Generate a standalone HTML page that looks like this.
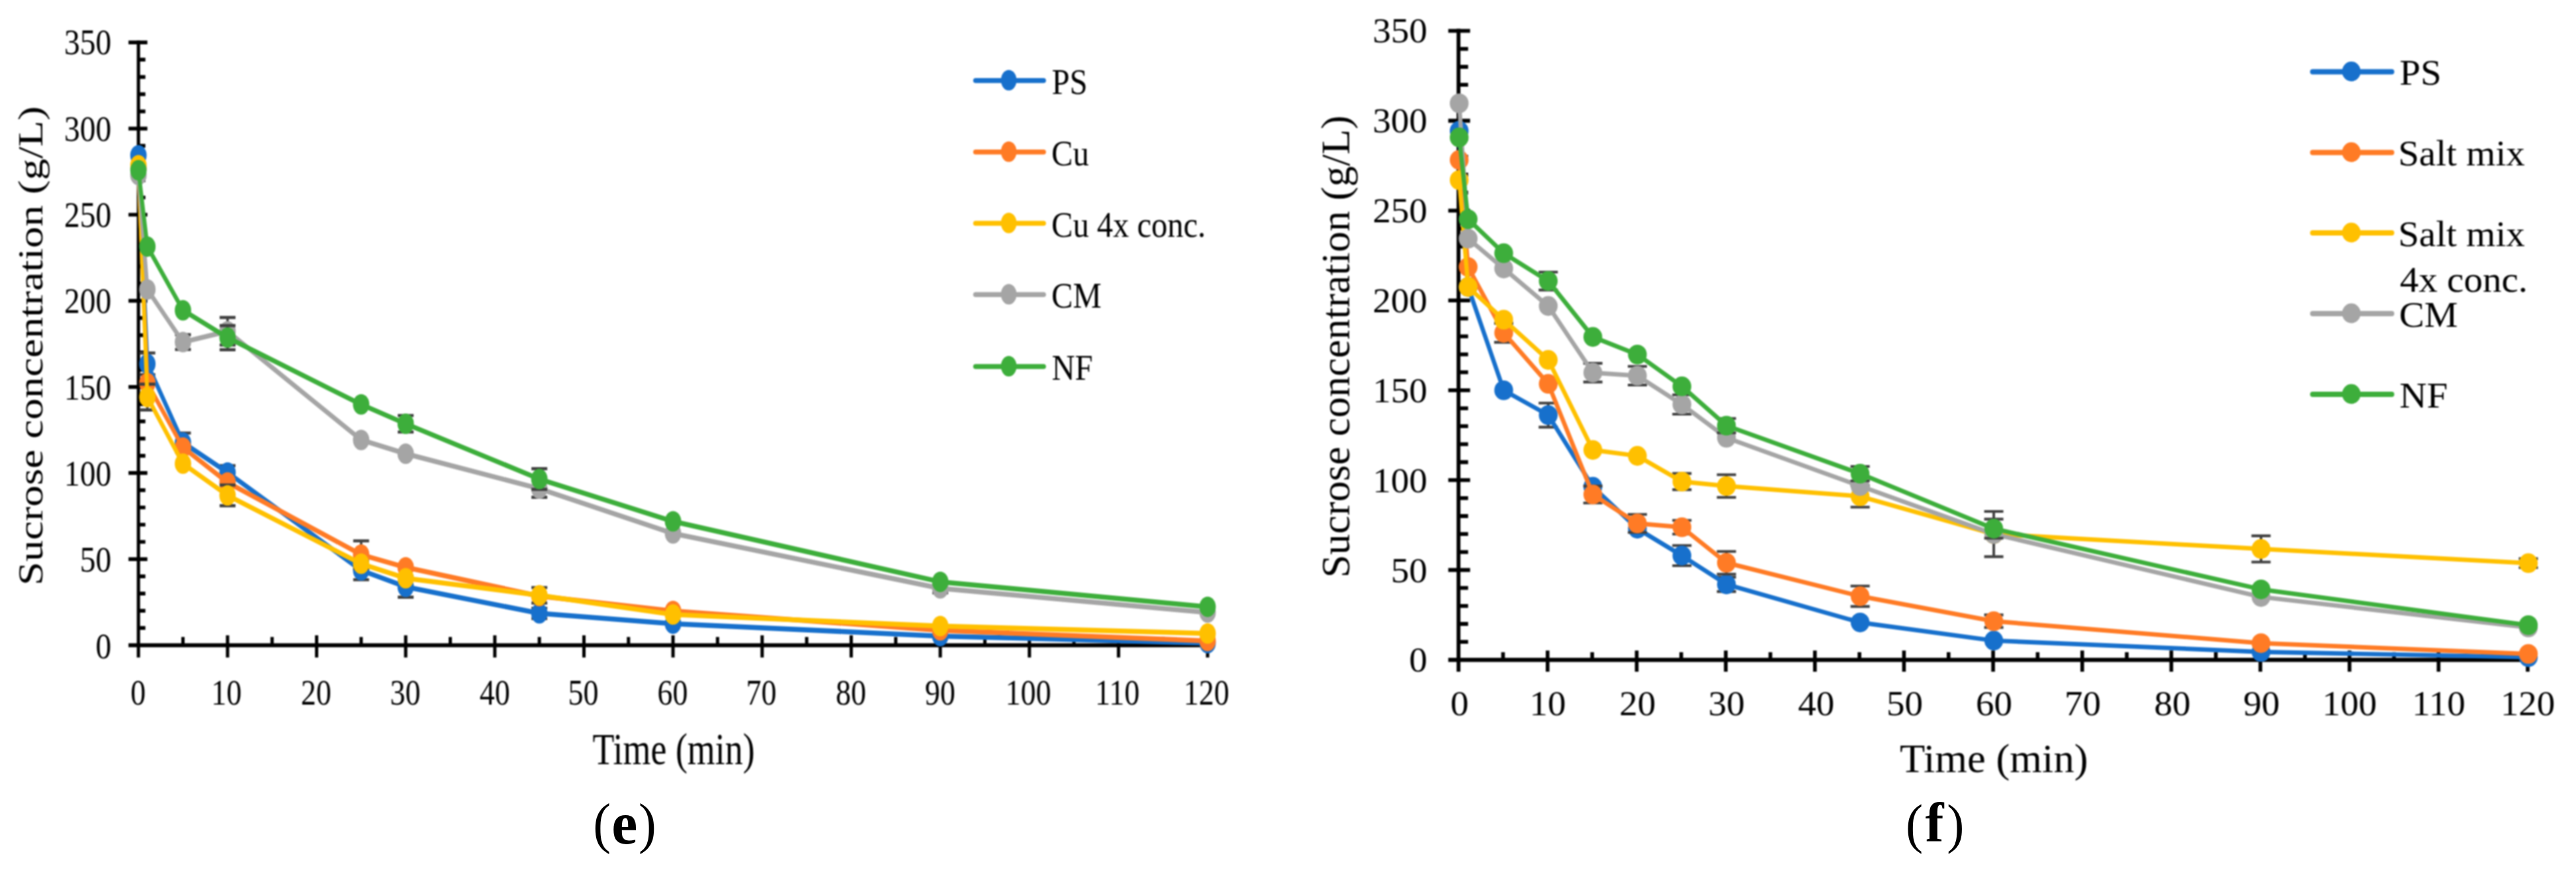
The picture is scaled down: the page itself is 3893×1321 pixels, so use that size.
<!DOCTYPE html>
<html><head><meta charset="utf-8"><title>Sucrose concentration charts</title>
<style>html,body{margin:0;padding:0;background:#fff}svg{display:block}</style></head>
<body>
<svg width="3893" height="1321" viewBox="0 0 3893 1321" font-family='"Liberation Serif", serif'>
<rect width="3893" height="1321" fill="#fff"/>
<defs><filter id="soft" x="0" y="0" width="100%" height="100%" filterUnits="userSpaceOnUse" color-interpolation-filters="sRGB"><feGaussianBlur stdDeviation="0.9"/></filter></defs>
<g filter="url(#soft)">
<rect width="3893" height="1321" fill="#fff"/>
<path d="M209.2,61.2V993.7" stroke="#000" stroke-width="5.0"/>
<path d="M194.2,975.2H1827.5" stroke="#000" stroke-width="6.1"/>
<path d="M209.2,949.2H219.7M209.2,923.1H219.7M209.2,897.1H219.7M209.2,871.1H219.7M194.2,845.1H222.7M209.2,819.0H219.7M209.2,793.0H219.7M209.2,767.0H219.7M209.2,740.9H219.7M194.2,714.9H222.7M209.2,688.9H219.7M209.2,662.9H219.7M209.2,636.8H219.7M209.2,610.8H219.7M194.2,584.8H222.7M209.2,558.8H219.7M209.2,532.7H219.7M209.2,506.7H219.7M209.2,480.7H219.7M194.2,454.6H222.7M209.2,428.6H219.7M209.2,402.6H219.7M209.2,376.6H219.7M209.2,350.5H219.7M194.2,324.5H222.7M209.2,298.5H219.7M209.2,272.4H219.7M209.2,246.4H219.7M209.2,220.4H219.7M194.2,194.4H222.7M209.2,168.3H219.7M209.2,142.3H219.7M209.2,116.3H219.7M209.2,90.2H219.7M194.2,64.2H222.7" stroke="#000" stroke-width="5.7"/>
<path d="M276.5,962.7V975.2M343.9,960.2V993.7M411.2,962.7V975.2M478.5,960.2V993.7M545.8,962.7V975.2M613.1,960.2V993.7M680.5,962.7V975.2M747.8,960.2V993.7M815.1,962.7V975.2M882.5,960.2V993.7M949.8,962.7V975.2M1017.1,960.2V993.7M1084.4,962.7V975.2M1151.8,960.2V993.7M1219.1,962.7V975.2M1286.4,960.2V993.7M1353.7,962.7V975.2M1421.0,960.2V993.7M1488.4,962.7V975.2M1555.7,960.2V993.7M1623.0,962.7V975.2M1690.4,960.2V993.7M1757.7,962.7V975.2M1825.0,960.2V993.7" stroke="#000" stroke-width="5.0"/>
<text transform="translate(144.53,994.71) scale(0.4750,0.5500)" font-size="100" text-anchor="start" fill="#000">0</text>
<text transform="translate(120.78,864.36) scale(0.4750,0.5500)" font-size="100" text-anchor="start" fill="#000">50</text>
<text transform="translate(97.03,734.00) scale(0.4750,0.5500)" font-size="100" text-anchor="start" fill="#000">100</text>
<text transform="translate(97.03,603.65) scale(0.4750,0.5500)" font-size="100" text-anchor="start" fill="#000">150</text>
<text transform="translate(97.03,473.30) scale(0.4750,0.5500)" font-size="100" text-anchor="start" fill="#000">200</text>
<text transform="translate(97.03,342.94) scale(0.4750,0.5500)" font-size="100" text-anchor="start" fill="#000">250</text>
<text transform="translate(97.03,212.59) scale(0.4750,0.5500)" font-size="100" text-anchor="start" fill="#000">300</text>
<text transform="translate(97.03,82.23) scale(0.4750,0.5500)" font-size="100" text-anchor="start" fill="#000">350</text>
<text transform="translate(197.20,1065.00) scale(0.4600,0.5500)" font-size="100" text-anchor="start" fill="#000">0</text>
<text transform="translate(319.20,1065.00) scale(0.4600,0.5500)" font-size="100" text-anchor="start" fill="#000">10</text>
<text transform="translate(454.83,1065.00) scale(0.4600,0.5500)" font-size="100" text-anchor="start" fill="#000">20</text>
<text transform="translate(589.42,1065.00) scale(0.4600,0.5500)" font-size="100" text-anchor="start" fill="#000">30</text>
<text transform="translate(724.70,1065.00) scale(0.4600,0.5500)" font-size="100" text-anchor="start" fill="#000">40</text>
<text transform="translate(858.49,1065.00) scale(0.4600,0.5500)" font-size="100" text-anchor="start" fill="#000">50</text>
<text transform="translate(993.48,1065.00) scale(0.4600,0.5500)" font-size="100" text-anchor="start" fill="#000">60</text>
<text transform="translate(1127.62,1065.00) scale(0.4600,0.5500)" font-size="100" text-anchor="start" fill="#000">70</text>
<text transform="translate(1262.90,1065.00) scale(0.4600,0.5500)" font-size="100" text-anchor="start" fill="#000">80</text>
<text transform="translate(1397.66,1065.00) scale(0.4600,0.5500)" font-size="100" text-anchor="start" fill="#000">90</text>
<text transform="translate(1519.55,1065.00) scale(0.4600,0.5500)" font-size="100" text-anchor="start" fill="#000">100</text>
<text transform="translate(1655.06,1065.00) scale(0.4600,0.5500)" font-size="100" text-anchor="start" fill="#000">110</text>
<text transform="translate(1788.85,1065.00) scale(0.4600,0.5500)" font-size="100" text-anchor="start" fill="#000">120</text>
<g transform="scale(1,1.25)">
<path d="M222.7,426.80V453.04M210.7,426.80H234.7M210.7,453.04H234.7" stroke="#404040" stroke-width="3.7" fill="none"/>
<path d="M276.5,523.63V546.53M264.5,523.63H288.5M264.5,546.53H288.5" stroke="#404040" stroke-width="3.7" fill="none"/>
<path d="M343.9,562.98V579.64M331.9,562.98H355.9M331.9,579.64H355.9" stroke="#404040" stroke-width="3.7" fill="none"/>
<path d="M545.8,678.13V701.03M533.8,678.13H557.8M533.8,701.03H557.8" stroke="#404040" stroke-width="3.7" fill="none"/>
<path d="M613.1,697.08V722.07M601.1,697.08H625.1M601.1,722.07H625.1" stroke="#404040" stroke-width="3.7" fill="none"/>
<path d="M815.1,735.39V747.89M803.1,735.39H827.1M803.1,747.89H827.1" stroke="#404040" stroke-width="3.7" fill="none"/>
<path d="M209.2,187.76 L222.7,439.92 L276.5,535.08 L343.9,571.31 L545.8,689.58 L613.1,709.57 L815.1,741.64 L1017.1,754.13 L1421.0,769.12 L1825.0,777.66" stroke="#1770CC" stroke-width="6.0" fill="none" stroke-linejoin="round" stroke-linecap="round"/>
<circle cx="209.2" cy="187.76" r="12.4" fill="#1770CC"/>
<circle cx="222.7" cy="439.92" r="12.4" fill="#1770CC"/>
<circle cx="276.5" cy="535.08" r="12.4" fill="#1770CC"/>
<circle cx="343.9" cy="571.31" r="12.4" fill="#1770CC"/>
<circle cx="545.8" cy="689.58" r="12.4" fill="#1770CC"/>
<circle cx="613.1" cy="709.57" r="12.4" fill="#1770CC"/>
<circle cx="815.1" cy="741.64" r="12.4" fill="#1770CC"/>
<circle cx="1017.1" cy="754.13" r="12.4" fill="#1770CC"/>
<circle cx="1421.0" cy="769.12" r="12.4" fill="#1770CC"/>
<circle cx="1825.0" cy="777.66" r="12.4" fill="#1770CC"/>
<path d="M545.8,653.98V687.29M533.8,653.98H557.8M533.8,687.29H557.8" stroke="#404040" stroke-width="3.7" fill="none"/>
<path d="M209.2,203.38 L222.7,463.24 L276.5,541.12 L343.9,583.39 L545.8,670.63 L613.1,686.04 L815.1,720.82 L1017.1,738.72 L1421.0,762.25 L1825.0,774.95" stroke="#FF7B25" stroke-width="6.0" fill="none" stroke-linejoin="round" stroke-linecap="round"/>
<circle cx="209.2" cy="203.38" r="12.4" fill="#FF7B25"/>
<circle cx="222.7" cy="463.24" r="12.4" fill="#FF7B25"/>
<circle cx="276.5" cy="541.12" r="12.4" fill="#FF7B25"/>
<circle cx="343.9" cy="583.39" r="12.4" fill="#FF7B25"/>
<circle cx="545.8" cy="670.63" r="12.4" fill="#FF7B25"/>
<circle cx="613.1" cy="686.04" r="12.4" fill="#FF7B25"/>
<circle cx="815.1" cy="720.82" r="12.4" fill="#FF7B25"/>
<circle cx="1017.1" cy="738.72" r="12.4" fill="#FF7B25"/>
<circle cx="1421.0" cy="762.25" r="12.4" fill="#FF7B25"/>
<circle cx="1825.0" cy="774.95" r="12.4" fill="#FF7B25"/>
<path d="M222.7,464.49V495.73M210.7,464.49H234.7M210.7,495.73H234.7" stroke="#404040" stroke-width="3.7" fill="none"/>
<path d="M343.9,586.51V611.50M331.9,586.51H355.9M331.9,611.50H355.9" stroke="#404040" stroke-width="3.7" fill="none"/>
<path d="M815.1,710.40V729.15M803.1,710.40H827.1M803.1,729.15H827.1" stroke="#404040" stroke-width="3.7" fill="none"/>
<path d="M209.2,199.84 L222.7,480.11 L276.5,560.69 L343.9,599.01 L545.8,681.67 L613.1,699.16 L815.1,719.78 L1017.1,743.10 L1421.0,757.05 L1825.0,766.00" stroke="#FFC000" stroke-width="6.0" fill="none" stroke-linejoin="round" stroke-linecap="round"/>
<circle cx="209.2" cy="199.84" r="12.4" fill="#FFC000"/>
<circle cx="222.7" cy="480.11" r="12.4" fill="#FFC000"/>
<circle cx="276.5" cy="560.69" r="12.4" fill="#FFC000"/>
<circle cx="343.9" cy="599.01" r="12.4" fill="#FFC000"/>
<circle cx="545.8" cy="681.67" r="12.4" fill="#FFC000"/>
<circle cx="613.1" cy="699.16" r="12.4" fill="#FFC000"/>
<circle cx="815.1" cy="719.78" r="12.4" fill="#FFC000"/>
<circle cx="1017.1" cy="743.10" r="12.4" fill="#FFC000"/>
<circle cx="1421.0" cy="757.05" r="12.4" fill="#FFC000"/>
<circle cx="1825.0" cy="766.00" r="12.4" fill="#FFC000"/>
<path d="M276.5,404.73V422.64M264.5,404.73H288.5M264.5,422.64H288.5" stroke="#404040" stroke-width="3.7" fill="none"/>
<path d="M343.9,383.91V417.23M331.9,383.91H355.9M331.9,417.23H355.9" stroke="#404040" stroke-width="3.7" fill="none"/>
<path d="M815.1,580.47V601.30M803.1,580.47H827.1M803.1,601.30H827.1" stroke="#404040" stroke-width="3.7" fill="none"/>
<path d="M1421.0,706.24V716.65M1409.0,706.24H1433.0M1409.0,716.65H1433.0" stroke="#404040" stroke-width="3.7" fill="none"/>
<path d="M209.2,211.71 L222.7,349.97 L276.5,413.69 L343.9,400.57 L545.8,531.96 L613.1,548.61 L815.1,590.88 L1017.1,645.02 L1421.0,711.45 L1825.0,740.60" stroke="#A5A5A5" stroke-width="6.0" fill="none" stroke-linejoin="round" stroke-linecap="round"/>
<circle cx="209.2" cy="211.71" r="12.4" fill="#A5A5A5"/>
<circle cx="222.7" cy="349.97" r="12.4" fill="#A5A5A5"/>
<circle cx="276.5" cy="413.69" r="12.4" fill="#A5A5A5"/>
<circle cx="343.9" cy="400.57" r="12.4" fill="#A5A5A5"/>
<circle cx="545.8" cy="531.96" r="12.4" fill="#A5A5A5"/>
<circle cx="613.1" cy="548.61" r="12.4" fill="#A5A5A5"/>
<circle cx="815.1" cy="590.88" r="12.4" fill="#A5A5A5"/>
<circle cx="1017.1" cy="645.02" r="12.4" fill="#A5A5A5"/>
<circle cx="1421.0" cy="711.45" r="12.4" fill="#A5A5A5"/>
<circle cx="1825.0" cy="740.60" r="12.4" fill="#A5A5A5"/>
<path d="M343.9,393.70V422.85M331.9,393.70H355.9M331.9,422.85H355.9" stroke="#404040" stroke-width="3.7" fill="none"/>
<path d="M613.1,502.39V522.38M601.1,502.39H625.1M601.1,522.38H625.1" stroke="#404040" stroke-width="3.7" fill="none"/>
<path d="M815.1,566.73V591.72M803.1,566.73H827.1M803.1,591.72H827.1" stroke="#404040" stroke-width="3.7" fill="none"/>
<path d="M209.2,205.88 L222.7,298.12 L276.5,375.16 L343.9,408.27 L545.8,489.06 L613.1,512.38 L815.1,579.22 L1017.1,630.45 L1421.0,703.53 L1825.0,733.73" stroke="#3DAE3B" stroke-width="6.0" fill="none" stroke-linejoin="round" stroke-linecap="round"/>
<circle cx="209.2" cy="205.88" r="12.4" fill="#3DAE3B"/>
<circle cx="222.7" cy="298.12" r="12.4" fill="#3DAE3B"/>
<circle cx="276.5" cy="375.16" r="12.4" fill="#3DAE3B"/>
<circle cx="343.9" cy="408.27" r="12.4" fill="#3DAE3B"/>
<circle cx="545.8" cy="489.06" r="12.4" fill="#3DAE3B"/>
<circle cx="613.1" cy="512.38" r="12.4" fill="#3DAE3B"/>
<circle cx="815.1" cy="579.22" r="12.4" fill="#3DAE3B"/>
<circle cx="1017.1" cy="630.45" r="12.4" fill="#3DAE3B"/>
<circle cx="1421.0" cy="703.53" r="12.4" fill="#3DAE3B"/>
<circle cx="1825.0" cy="733.73" r="12.4" fill="#3DAE3B"/>
</g>
<path d="M2204.2,43.6V1015.3" stroke="#000" stroke-width="5.8"/>
<path d="M2188.7,997.3H3822.9" stroke="#000" stroke-width="6.2"/>
<path d="M2204.2,970.1H2218.7M2204.2,943.0H2218.7M2204.2,915.8H2218.7M2204.2,888.7H2218.7M2188.7,861.5H2221.7M2204.2,834.3H2218.7M2204.2,807.2H2218.7M2204.2,780.0H2218.7M2204.2,752.9H2218.7M2188.7,725.7H2221.7M2204.2,698.5H2218.7M2204.2,671.4H2218.7M2204.2,644.2H2218.7M2204.2,617.1H2218.7M2188.7,589.9H2221.7M2204.2,562.7H2218.7M2204.2,535.6H2218.7M2204.2,508.4H2218.7M2204.2,481.3H2218.7M2188.7,454.1H2221.7M2204.2,426.9H2218.7M2204.2,399.8H2218.7M2204.2,372.6H2218.7M2204.2,345.5H2218.7M2188.7,318.3H2221.7M2204.2,291.1H2218.7M2204.2,264.0H2218.7M2204.2,236.8H2218.7M2204.2,209.7H2218.7M2188.7,182.5H2221.7M2204.2,155.3H2218.7M2204.2,128.2H2218.7M2204.2,101.0H2218.7M2204.2,73.9H2218.7M2188.7,46.7H2221.7" stroke="#000" stroke-width="5.8"/>
<path d="M2271.5,985.8V997.3M2338.8,983.3V1015.3M2406.2,985.8V997.3M2473.5,983.3V1015.3M2540.8,985.8V997.3M2608.1,983.3V1015.3M2675.5,985.8V997.3M2742.8,983.3V1015.3M2810.1,985.8V997.3M2877.4,983.3V1015.3M2944.8,985.8V997.3M3012.1,983.3V1015.3M3079.4,985.8V997.3M3146.8,983.3V1015.3M3214.1,985.8V997.3M3281.4,983.3V1015.3M3348.7,985.8V997.3M3416.0,983.3V1015.3M3483.4,985.8V997.3M3550.7,983.3V1015.3M3618.0,985.8V997.3M3685.3,983.3V1015.3M3752.7,985.8V997.3M3820.0,983.3V1015.3" stroke="#000" stroke-width="5.6"/>
<text transform="translate(2129.56,1015.49) scale(0.5500,0.5250)" font-size="100" text-anchor="start" fill="#000">0</text>
<text transform="translate(2102.06,879.55) scale(0.5500,0.5250)" font-size="100" text-anchor="start" fill="#000">50</text>
<text transform="translate(2074.56,743.61) scale(0.5500,0.5250)" font-size="100" text-anchor="start" fill="#000">100</text>
<text transform="translate(2074.56,607.67) scale(0.5500,0.5250)" font-size="100" text-anchor="start" fill="#000">150</text>
<text transform="translate(2074.56,471.72) scale(0.5500,0.5250)" font-size="100" text-anchor="start" fill="#000">200</text>
<text transform="translate(2074.56,335.78) scale(0.5500,0.5250)" font-size="100" text-anchor="start" fill="#000">250</text>
<text transform="translate(2074.56,199.84) scale(0.5500,0.5250)" font-size="100" text-anchor="start" fill="#000">300</text>
<text transform="translate(2074.56,63.89) scale(0.5500,0.5250)" font-size="100" text-anchor="start" fill="#000">350</text>
<text transform="translate(2191.95,1080.50) scale(0.5500,0.5250)" font-size="100" text-anchor="start" fill="#000">0</text>
<text transform="translate(2311.47,1080.50) scale(0.5500,0.5250)" font-size="100" text-anchor="start" fill="#000">10</text>
<text transform="translate(2447.29,1080.50) scale(0.5500,0.5250)" font-size="100" text-anchor="start" fill="#000">20</text>
<text transform="translate(2581.87,1080.50) scale(0.5500,0.5250)" font-size="100" text-anchor="start" fill="#000">30</text>
<text transform="translate(2717.28,1080.50) scale(0.5500,0.5250)" font-size="100" text-anchor="start" fill="#000">40</text>
<text transform="translate(2850.90,1080.50) scale(0.5500,0.5250)" font-size="100" text-anchor="start" fill="#000">50</text>
<text transform="translate(2985.96,1080.50) scale(0.5500,0.5250)" font-size="100" text-anchor="start" fill="#000">60</text>
<text transform="translate(3119.99,1080.50) scale(0.5500,0.5250)" font-size="100" text-anchor="start" fill="#000">70</text>
<text transform="translate(3255.40,1080.50) scale(0.5500,0.5250)" font-size="100" text-anchor="start" fill="#000">80</text>
<text transform="translate(3390.19,1080.50) scale(0.5500,0.5250)" font-size="100" text-anchor="start" fill="#000">90</text>
<text transform="translate(3509.57,1080.50) scale(0.5500,0.5250)" font-size="100" text-anchor="start" fill="#000">100</text>
<text transform="translate(3645.26,1080.50) scale(0.5500,0.5250)" font-size="100" text-anchor="start" fill="#000">110</text>
<text transform="translate(3778.88,1080.50) scale(0.5500,0.5250)" font-size="100" text-anchor="start" fill="#000">120</text>
<g transform="scale(1,1.05)">
<path d="M2339.8,580.17V614.84M2325.3,580.17H2354.3M2325.3,614.84H2354.3" stroke="#404040" stroke-width="3.9" fill="none"/>
<path d="M2541.8,785.30V814.27M2527.3,785.30H2556.3M2527.3,814.27H2556.3" stroke="#404040" stroke-width="3.9" fill="none"/>
<path d="M2609.1,830.82V851.52M2594.6,830.82H2623.6M2594.6,851.52H2623.6" stroke="#404040" stroke-width="3.9" fill="none"/>
<path d="M2205.2,188.29 L2218.7,413.08 L2272.5,561.81 L2339.8,597.51 L2407.2,700.71 L2474.5,760.98 L2541.8,799.78 L2609.1,841.17 L2811.1,896.01 L3013.1,922.13 L3417.0,938.43 L3821.0,945.93" stroke="#1770CC" stroke-width="6.4" fill="none" stroke-linejoin="round" stroke-linecap="round"/>
<circle cx="2205.2" cy="188.29" r="14.2" fill="#1770CC"/>
<circle cx="2218.7" cy="413.08" r="14.2" fill="#1770CC"/>
<circle cx="2272.5" cy="561.81" r="14.2" fill="#1770CC"/>
<circle cx="2339.8" cy="597.51" r="14.2" fill="#1770CC"/>
<circle cx="2407.2" cy="700.71" r="14.2" fill="#1770CC"/>
<circle cx="2474.5" cy="760.98" r="14.2" fill="#1770CC"/>
<circle cx="2541.8" cy="799.78" r="14.2" fill="#1770CC"/>
<circle cx="2609.1" cy="841.17" r="14.2" fill="#1770CC"/>
<circle cx="2811.1" cy="896.01" r="14.2" fill="#1770CC"/>
<circle cx="3013.1" cy="922.13" r="14.2" fill="#1770CC"/>
<circle cx="3417.0" cy="938.43" r="14.2" fill="#1770CC"/>
<circle cx="3821.0" cy="945.93" r="14.2" fill="#1770CC"/>
<path d="M2272.5,465.33V492.75M2258.0,465.33H2287.0M2258.0,492.75H2287.0" stroke="#404040" stroke-width="3.9" fill="none"/>
<path d="M2407.2,699.68V723.99M2392.7,699.68H2421.7M2392.7,723.99H2421.7" stroke="#404040" stroke-width="3.9" fill="none"/>
<path d="M2474.5,740.55V766.41M2460.0,740.55H2489.0M2460.0,766.41H2489.0" stroke="#404040" stroke-width="3.9" fill="none"/>
<path d="M2541.8,749.08V768.74M2527.3,749.08H2556.3M2527.3,768.74H2556.3" stroke="#404040" stroke-width="3.9" fill="none"/>
<path d="M2609.1,793.83V826.43M2594.6,793.83H2623.6M2594.6,826.43H2623.6" stroke="#404040" stroke-width="3.9" fill="none"/>
<path d="M2811.1,843.50V872.99M2796.6,843.50H2825.6M2796.6,872.99H2825.6" stroke="#404040" stroke-width="3.9" fill="none"/>
<path d="M3013.1,885.14V903.25M2998.6,885.14H3027.6M2998.6,903.25H3027.6" stroke="#404040" stroke-width="3.9" fill="none"/>
<path d="M2205.2,230.20 L2218.7,384.36 L2272.5,479.04 L2339.8,552.50 L2407.2,711.84 L2474.5,753.48 L2541.8,758.91 L2609.1,810.13 L2811.1,858.24 L3013.1,894.20 L3417.0,925.75 L3821.0,941.27" stroke="#FF7B25" stroke-width="6.4" fill="none" stroke-linejoin="round" stroke-linecap="round"/>
<circle cx="2205.2" cy="230.20" r="14.2" fill="#FF7B25"/>
<circle cx="2218.7" cy="384.36" r="14.2" fill="#FF7B25"/>
<circle cx="2272.5" cy="479.04" r="14.2" fill="#FF7B25"/>
<circle cx="2339.8" cy="552.50" r="14.2" fill="#FF7B25"/>
<circle cx="2407.2" cy="711.84" r="14.2" fill="#FF7B25"/>
<circle cx="2474.5" cy="753.48" r="14.2" fill="#FF7B25"/>
<circle cx="2541.8" cy="758.91" r="14.2" fill="#FF7B25"/>
<circle cx="2609.1" cy="810.13" r="14.2" fill="#FF7B25"/>
<circle cx="2811.1" cy="858.24" r="14.2" fill="#FF7B25"/>
<circle cx="3013.1" cy="894.20" r="14.2" fill="#FF7B25"/>
<circle cx="3417.0" cy="925.75" r="14.2" fill="#FF7B25"/>
<circle cx="3821.0" cy="941.27" r="14.2" fill="#FF7B25"/>
<path d="M2541.8,681.57V704.85M2527.3,681.57H2556.3M2527.3,704.85H2556.3" stroke="#404040" stroke-width="3.9" fill="none"/>
<path d="M2609.1,683.38V715.97M2594.6,683.38H2623.6M2594.6,715.97H2623.6" stroke="#404040" stroke-width="3.9" fill="none"/>
<path d="M2811.1,698.90V729.94M2796.6,698.90H2825.6M2796.6,729.94H2825.6" stroke="#404040" stroke-width="3.9" fill="none"/>
<path d="M3417.0,771.33V809.09M3402.5,771.33H3431.5M3402.5,809.09H3431.5" stroke="#404040" stroke-width="3.9" fill="none"/>
<path d="M3821.0,804.18V817.11M3806.5,804.18H3835.5M3806.5,817.11H3835.5" stroke="#404040" stroke-width="3.9" fill="none"/>
<path d="M2205.2,259.17 L2218.7,413.08 L2272.5,460.15 L2339.8,518.09 L2407.2,647.69 L2474.5,656.22 L2541.8,693.21 L2609.1,699.68 L2811.1,714.42 L3013.1,768.74 L3417.0,790.21 L3821.0,810.65" stroke="#FFC000" stroke-width="6.4" fill="none" stroke-linejoin="round" stroke-linecap="round"/>
<circle cx="2205.2" cy="259.17" r="14.2" fill="#FFC000"/>
<circle cx="2218.7" cy="413.08" r="14.2" fill="#FFC000"/>
<circle cx="2272.5" cy="460.15" r="14.2" fill="#FFC000"/>
<circle cx="2339.8" cy="518.09" r="14.2" fill="#FFC000"/>
<circle cx="2407.2" cy="647.69" r="14.2" fill="#FFC000"/>
<circle cx="2474.5" cy="656.22" r="14.2" fill="#FFC000"/>
<circle cx="2541.8" cy="693.21" r="14.2" fill="#FFC000"/>
<circle cx="2609.1" cy="699.68" r="14.2" fill="#FFC000"/>
<circle cx="2811.1" cy="714.42" r="14.2" fill="#FFC000"/>
<circle cx="3013.1" cy="768.74" r="14.2" fill="#FFC000"/>
<circle cx="3417.0" cy="790.21" r="14.2" fill="#FFC000"/>
<circle cx="3821.0" cy="810.65" r="14.2" fill="#FFC000"/>
<path d="M2407.2,523.01V549.91M2392.7,523.01H2421.7M2392.7,549.91H2421.7" stroke="#404040" stroke-width="3.9" fill="none"/>
<path d="M2474.5,527.41V554.31M2460.0,527.41H2489.0M2460.0,554.31H2489.0" stroke="#404040" stroke-width="3.9" fill="none"/>
<path d="M2541.8,568.28V596.21M2527.3,568.28H2556.3M2527.3,596.21H2556.3" stroke="#404040" stroke-width="3.9" fill="none"/>
<path d="M3013.1,736.15V801.33M2998.6,736.15H3027.6M2998.6,801.33H3027.6" stroke="#404040" stroke-width="3.9" fill="none"/>
<path d="M2205.2,148.72 L2218.7,343.49 L2272.5,386.43 L2339.8,440.49 L2407.2,536.46 L2474.5,540.86 L2541.8,582.24 L2609.1,630.10 L2811.1,699.68 L3013.1,768.74 L3417.0,859.28 L3821.0,903.25" stroke="#A5A5A5" stroke-width="6.4" fill="none" stroke-linejoin="round" stroke-linecap="round"/>
<circle cx="2205.2" cy="148.72" r="14.2" fill="#A5A5A5"/>
<circle cx="2218.7" cy="343.49" r="14.2" fill="#A5A5A5"/>
<circle cx="2272.5" cy="386.43" r="14.2" fill="#A5A5A5"/>
<circle cx="2339.8" cy="440.49" r="14.2" fill="#A5A5A5"/>
<circle cx="2407.2" cy="536.46" r="14.2" fill="#A5A5A5"/>
<circle cx="2474.5" cy="540.86" r="14.2" fill="#A5A5A5"/>
<circle cx="2541.8" cy="582.24" r="14.2" fill="#A5A5A5"/>
<circle cx="2609.1" cy="630.10" r="14.2" fill="#A5A5A5"/>
<circle cx="2811.1" cy="699.68" r="14.2" fill="#A5A5A5"/>
<circle cx="3013.1" cy="768.74" r="14.2" fill="#A5A5A5"/>
<circle cx="3417.0" cy="859.28" r="14.2" fill="#A5A5A5"/>
<circle cx="3821.0" cy="903.25" r="14.2" fill="#A5A5A5"/>
<path d="M2339.8,391.61V417.47M2325.3,391.61H2354.3M2325.3,417.47H2354.3" stroke="#404040" stroke-width="3.9" fill="none"/>
<path d="M2609.1,602.42V623.11M2594.6,602.42H2623.6M2594.6,623.11H2623.6" stroke="#404040" stroke-width="3.9" fill="none"/>
<path d="M2811.1,671.48V692.18M2796.6,671.48H2825.6M2796.6,692.18H2825.6" stroke="#404040" stroke-width="3.9" fill="none"/>
<path d="M3013.1,747.27V774.69M2998.6,747.27H3027.6M2998.6,774.69H3027.6" stroke="#404040" stroke-width="3.9" fill="none"/>
<path d="M2205.2,197.87 L2218.7,315.56 L2272.5,364.45 L2339.8,404.54 L2407.2,484.99 L2474.5,510.33 L2541.8,556.12 L2609.1,612.77 L2811.1,681.83 L3013.1,760.98 L3417.0,848.41 L3821.0,899.89" stroke="#3DAE3B" stroke-width="6.4" fill="none" stroke-linejoin="round" stroke-linecap="round"/>
<circle cx="2205.2" cy="197.87" r="14.2" fill="#3DAE3B"/>
<circle cx="2218.7" cy="315.56" r="14.2" fill="#3DAE3B"/>
<circle cx="2272.5" cy="364.45" r="14.2" fill="#3DAE3B"/>
<circle cx="2339.8" cy="404.54" r="14.2" fill="#3DAE3B"/>
<circle cx="2407.2" cy="484.99" r="14.2" fill="#3DAE3B"/>
<circle cx="2474.5" cy="510.33" r="14.2" fill="#3DAE3B"/>
<circle cx="2541.8" cy="556.12" r="14.2" fill="#3DAE3B"/>
<circle cx="2609.1" cy="612.77" r="14.2" fill="#3DAE3B"/>
<circle cx="2811.1" cy="681.83" r="14.2" fill="#3DAE3B"/>
<circle cx="3013.1" cy="760.98" r="14.2" fill="#3DAE3B"/>
<circle cx="3417.0" cy="848.41" r="14.2" fill="#3DAE3B"/>
<circle cx="3821.0" cy="899.89" r="14.2" fill="#3DAE3B"/>
</g>
<text transform="translate(895.56,1155.00) scale(0.5393,0.6700)" font-size="100" text-anchor="start" fill="#000">Time (min)</text>
<text transform="translate(2870.90,1167.00) scale(0.6262,0.6200)" font-size="100" text-anchor="start" fill="#000">Time (min)</text>
<text transform="translate(63.50,884.88) rotate(-90) scale(0.6492,0.5200)" font-size="100" text-anchor="start" fill="#000">Sucrose concentration (g/L)</text>
<text transform="translate(2038.50,873.23) rotate(-90) scale(0.6261,0.6100)" font-size="100" text-anchor="start" fill="#000">Sucrose concentration (g/L)</text>
<path d="M1474.5,121.7H1577" stroke="#1770CC" stroke-width="7.6" stroke-linecap="round"/>
<ellipse cx="1524.5" cy="121.2" rx="11.8" ry="15.5" fill="#1770CC"/>
<text transform="translate(1589.55,141.70) scale(0.4850,0.5450)" font-size="100" text-anchor="start" fill="#000">PS</text>
<path d="M1474.5,229.7H1577" stroke="#FF7B25" stroke-width="7.6" stroke-linecap="round"/>
<ellipse cx="1524.5" cy="229.2" rx="11.8" ry="15.5" fill="#FF7B25"/>
<text transform="translate(1589.06,249.70) scale(0.4850,0.5450)" font-size="100" text-anchor="start" fill="#000">Cu</text>
<path d="M1474.5,337.5H1577" stroke="#FFC000" stroke-width="7.6" stroke-linecap="round"/>
<ellipse cx="1524.5" cy="337.0" rx="11.8" ry="15.5" fill="#FFC000"/>
<text transform="translate(1589.06,357.50) scale(0.4850,0.5450)" font-size="100" text-anchor="start" fill="#000">Cu 4x conc.</text>
<path d="M1474.5,445.3H1577" stroke="#A5A5A5" stroke-width="7.6" stroke-linecap="round"/>
<ellipse cx="1524.5" cy="444.8" rx="11.8" ry="15.5" fill="#A5A5A5"/>
<text transform="translate(1589.06,465.30) scale(0.4850,0.5450)" font-size="100" text-anchor="start" fill="#000">CM</text>
<path d="M1474.5,554H1577" stroke="#3DAE3B" stroke-width="7.6" stroke-linecap="round"/>
<ellipse cx="1524.5" cy="553.5" rx="11.8" ry="15.5" fill="#3DAE3B"/>
<text transform="translate(1589.55,574.00) scale(0.4850,0.5450)" font-size="100" text-anchor="start" fill="#000">NF</text>
<path d="M3495,108.5H3614.5" stroke="#1770CC" stroke-width="7.8" stroke-linecap="round"/>
<ellipse cx="3553.5" cy="108.0" rx="14" ry="15" fill="#1770CC"/>
<text transform="translate(3626.29,128.00) scale(0.5700,0.5500)" font-size="100" text-anchor="start" fill="#000">PS</text>
<path d="M3495,230.5H3614.5" stroke="#FF7B25" stroke-width="7.8" stroke-linecap="round"/>
<ellipse cx="3553.5" cy="230.0" rx="14" ry="15" fill="#FF7B25"/>
<text transform="translate(3624.15,250.00) scale(0.5700,0.5500)" font-size="100" text-anchor="start" fill="#000">Salt mix</text>
<path d="M3495,352H3614.5" stroke="#FFC000" stroke-width="7.8" stroke-linecap="round"/>
<ellipse cx="3553.5" cy="351.5" rx="14" ry="15" fill="#FFC000"/>
<text transform="translate(3624.15,371.50) scale(0.5700,0.5500)" font-size="100" text-anchor="start" fill="#000">Salt mix</text>
<text transform="translate(3626.86,440.50) scale(0.5700,0.5500)" font-size="100" text-anchor="start" fill="#000">4x conc.</text>
<path d="M3495,474H3614.5" stroke="#A5A5A5" stroke-width="7.8" stroke-linecap="round"/>
<ellipse cx="3553.5" cy="473.5" rx="14" ry="15" fill="#A5A5A5"/>
<text transform="translate(3625.72,493.50) scale(0.5700,0.5500)" font-size="100" text-anchor="start" fill="#000">CM</text>
<path d="M3495,596H3614.5" stroke="#3DAE3B" stroke-width="7.8" stroke-linecap="round"/>
<ellipse cx="3553.5" cy="595.5" rx="14" ry="15" fill="#3DAE3B"/>
<text transform="translate(3626.29,615.50) scale(0.5700,0.5500)" font-size="100" text-anchor="start" fill="#000">NF</text>
</g>
<text transform="translate(896.37,1273.47) scale(0.8061,0.8485)" font-size="100" text-anchor="start" fill="#000">(</text>
<text transform="translate(965.12,1273.47) scale(0.8061,0.8485)" font-size="100" text-anchor="start" fill="#000">)</text>
<text transform="translate(924.24,1275.00) scale(0.8800,0.9000)" font-size="100" text-anchor="start" font-weight="bold" fill="#000">e</text>
<text transform="translate(2879.97,1272.94) scale(0.7851,0.8264)" font-size="100" text-anchor="start" fill="#000">(</text>
<text transform="translate(2942.23,1272.94) scale(0.7851,0.8264)" font-size="100" text-anchor="start" fill="#000">)</text>
<text transform="translate(2909.45,1271.50) scale(0.8400,0.8400)" font-size="100" text-anchor="start" font-weight="bold" fill="#000">f</text>
</svg>
</body></html>
